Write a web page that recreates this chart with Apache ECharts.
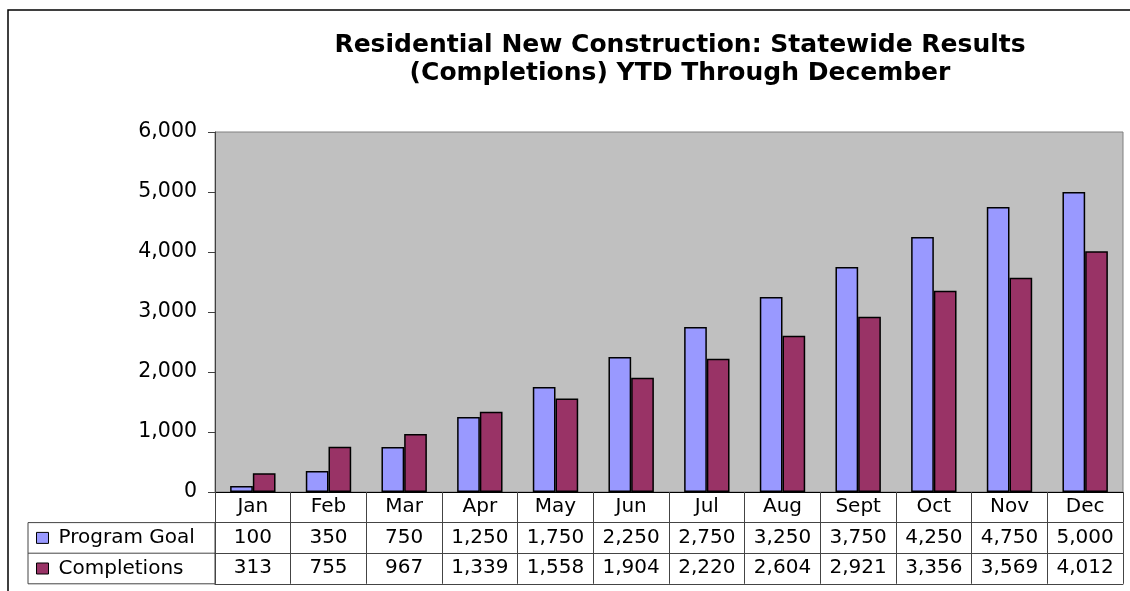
<!DOCTYPE html>
<html>
<head>
<meta charset="utf-8">
<script src="https://cdn.jsdelivr.net/npm/echarts@6/dist/echarts.min.js"></script>
<style>
  html, body { margin: 0; padding: 0; background: #fff; }
  #chart { width: 1130px; height: 591px; }
</style>
</head>
<body>
<div id="chart"></div>
<script>
  // data
  var months = ['Jan', 'Feb', 'Mar', 'Apr', 'May', 'Jun', 'Jul', 'Aug', 'Sept', 'Oct', 'Nov', 'Dec'];
  var programGoal = [100, 350, 750, 1250, 1750, 2250, 2750, 3250, 3750, 4250, 4750, 5000];
  var completions = [313, 755, 967, 1339, 1558, 1904, 2220, 2604, 2921, 3356, 3569, 4012];
  var seriesNames = ['Program Goal', 'Completions'];
  var yMin = 0, yMax = 6000, yStep = 1000;

  // layout
  var W = 1130, H = 591;
  var gridLeft = 215, gridRight = 7, gridTop = 132, gridBottom = 99;
  var rowH = 30.6;
  var tableLeft = 28;
  var axisY = H - gridBottom;
  var font = 'DejaVu Sans';
  var lineCol = '#444';

  function fmt(v) { return v.toLocaleString('en-US'); }

  // one x axis per table row; ticks make the cell borders
  function rowAxis(i, labels, ticks) {
    return {
      type: 'category',
      gridIndex: 0,
      position: 'bottom',
      offset: i * rowH,
      data: labels,
      axisLine: { show: true, lineStyle: { color: i === 0 ? '#000' : lineCol, width: 1 } },
      axisTick: { show: ticks, length: rowH, interval: 0, lineStyle: { color: lineCol } },
      axisLabel: {
        show: labels !== null,
        interval: 0,
        margin: 5,
        color: '#000',
        fontFamily: font,
        fontSize: 20,
        lineHeight: 20
      }
    };
  }

  var chart = echarts.init(document.getElementById('chart'), null, { renderer: 'canvas' });

  chart.setOption({
    animation: false,
    backgroundColor: '#fff',
    title: {
      text: 'Residential New Construction: Statewide Results\n(Completions) YTD Through December',
      left: 680,
      top: 31,
      padding: 0,
      textAlign: 'center',
      textStyle: {
        fontFamily: font,
        fontWeight: 'bold',
        fontSize: 25,
        lineHeight: 28,
        color: '#000'
      }
    },
    legend: {
      data: seriesNames,
      orient: 'vertical',
      left: 36,
      top: axisY + rowH + (rowH - 20) / 2,
      padding: 0,
      itemWidth: 12,
      itemHeight: 11,
      itemGap: rowH - 20,
      icon: 'rect',
      selectedMode: false,
      itemStyle: { borderColor: '#000', borderWidth: 1 },
      textStyle: {
        fontFamily: font,
        fontSize: 20,
        lineHeight: 20,
        color: '#000',
        padding: [0, 0, 0, 5]
      }
    },
    grid: {
      left: gridLeft,
      right: gridRight,
      top: gridTop,
      bottom: gridBottom,
      show: true,
      backgroundColor: '#c0c0c0',
      borderColor: '#808080',
      borderWidth: 1
    },
    xAxis: [
      rowAxis(0, months, true),
      rowAxis(1, programGoal.map(fmt), true),
      rowAxis(2, completions.map(fmt), true),
      rowAxis(3, null, false)
    ],
    yAxis: {
      type: 'value',
      min: yMin,
      max: yMax,
      interval: yStep,
      axisLine: { show: true, lineStyle: { color: '#404040', width: 1 } },
      axisTick: { show: true, length: 7, lineStyle: { color: '#404040' } },
      splitLine: { show: false },
      axisLabel: {
        margin: 18,
        color: '#000',
        fontFamily: font,
        fontSize: 20.5,
        formatter: function (v) { return fmt(v); }
      }
    },
    series: [
      {
        name: seriesNames[0],
        type: 'bar',
        xAxisIndex: 0,
        data: programGoal,
        barGap: '0%',
        barCategoryGap: '40%',
        itemStyle: { color: '#9999ff', borderColor: '#000', borderWidth: 1.5 }
      },
      {
        name: seriesNames[1],
        type: 'bar',
        xAxisIndex: 0,
        data: completions,
        barGap: '0%',
        barCategoryGap: '40%',
        itemStyle: { color: '#993366', borderColor: '#000', borderWidth: 1.5 }
      }
    ],
    graphic: [
      // page frame
      {
        type: 'rect',
        shape: { x: 8, y: 10, width: W + 20, height: H + 20 },
        style: { fill: null, stroke: '#000', lineWidth: 1.5 },
        silent: true
      },
      // row header cells of the data table
      {
        type: 'rect',
        shape: { x: tableLeft, y: axisY + rowH, width: gridLeft - tableLeft, height: rowH * 2 },
        style: { fill: null, stroke: lineCol, lineWidth: 1 },
        silent: true
      },
      {
        type: 'line',
        shape: { x1: tableLeft, y1: axisY + rowH * 2, x2: gridLeft, y2: axisY + rowH * 2 },
        style: { stroke: lineCol, lineWidth: 1 },
        silent: true
      }
    ]
  });
</script>
</body>
</html>
